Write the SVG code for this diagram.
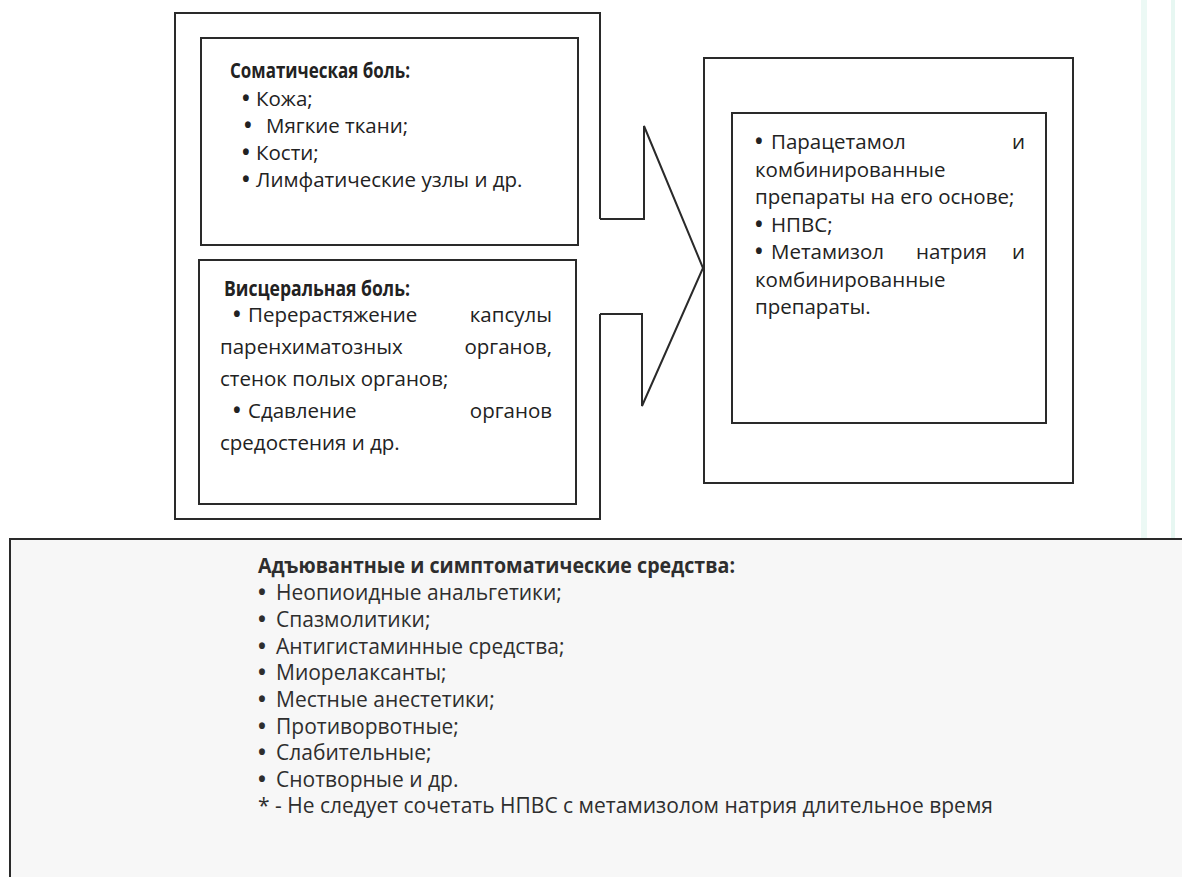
<svg xmlns="http://www.w3.org/2000/svg" width="1182" height="877" viewBox="0 0 1182 877">
<style>
.ln{fill:none;stroke:#2a2a2a;stroke-width:2}
.bx{fill:#ffffff;stroke:#2a2a2a;stroke-width:2}
.t{font-family:"Open Sans","Noto Sans",sans-serif;font-size:20.5px;fill:#222222}
.s{font-size:21px;fill:#2e2e2e}
.bu{font-weight:bold}
.b{font-weight:bold}
.e{text-anchor:end}
</style>
<rect x="0" y="0" width="1182" height="877" fill="#ffffff"/>
<rect x="1141" y="0" width="6" height="877" fill="#e4f6f1" opacity="0.7"/>
<rect x="1171" y="0" width="4" height="877" fill="#e4f6f1" opacity="0.9"/>

<g id="pain-types">
<path class="ln" d="M600,219 V13 H175 V519 H600 V314"/>
</g>
<g id="somatic">
<rect class="bx" x="201" y="38" width="377" height="207"/>
<text class="t"><tspan class="b" x="230" y="78" textLength="180" lengthAdjust="spacingAndGlyphs">Соматическая боль:</tspan><tspan class="bu" x="242" y="106">•</tspan><tspan x="256" y="106">Кожа;</tspan><tspan class="bu" x="244" y="133">•</tspan><tspan x="266" y="133">Мягкие ткани;</tspan><tspan class="bu" x="242" y="160">•</tspan><tspan x="256" y="160">Кости;</tspan><tspan class="bu" x="242" y="187">•</tspan><tspan x="256" y="187">Лимфатические узлы и др.</tspan></text>
</g>
<g id="visceral">
<rect class="bx" x="199" y="260" width="377" height="244"/>
<text class="t"><tspan class="b" x="224" y="296" textLength="186" lengthAdjust="spacingAndGlyphs">Висцеральная боль:</tspan><tspan class="bu" x="233" y="322">•</tspan><tspan x="248" y="322">Перерастяжение</tspan><tspan x="220" y="354">паренхиматозных</tspan><tspan x="220" y="386">стенок полых органов;</tspan><tspan class="bu" x="233" y="418">•</tspan><tspan x="248" y="418">Сдавление</tspan><tspan x="220" y="450">средостения и др.</tspan></text>
<text class="t e"><tspan x="552" y="322">капсулы</tspan><tspan x="552" y="354">органов,</tspan><tspan x="552" y="418">органов</tspan></text>
</g>

<g id="connectors">
<path class="ln" d="M600,219 H644 V126 L703,268 L642,406 V314 H600"/>
</g>

<g id="analgesics">
<rect class="bx" x="704" y="58" width="369" height="425"/>
<rect class="bx" x="732" y="113" width="314" height="310"/>
<text class="t"><tspan class="bu" x="755" y="149">•</tspan><tspan x="771" y="149">Парацетамол</tspan><tspan x="755" y="176.5">комбинированные</tspan><tspan x="755" y="204">препараты на его основе;</tspan><tspan class="bu" x="755" y="231.5">•</tspan><tspan x="771" y="231.5">НПВС;</tspan><tspan class="bu" x="755" y="259">•</tspan><tspan x="771" y="259">Метамизол</tspan><tspan x="916" y="259">натрия</tspan><tspan x="755" y="286.5">комбинированные</tspan><tspan x="755" y="314">препараты.</tspan></text>
<text class="t e"><tspan x="1025" y="149">и</tspan><tspan x="1025" y="259">и</tspan></text>
</g>

<g id="adjuvants">
<rect x="10" y="539" width="1200" height="360" fill="#f7f7f7" stroke="#2a2a2a" stroke-width="2"/>
<text class="t s"><tspan class="b" x="258" y="573" textLength="477" lengthAdjust="spacingAndGlyphs">Адъювантные и симптоматические средства:</tspan><tspan class="bu" x="258" y="600">•</tspan><tspan x="276" y="600">Неопиоидные анальгетики;</tspan><tspan class="bu" x="258" y="627">•</tspan><tspan x="276" y="627">Спазмолитики;</tspan><tspan class="bu" x="258" y="654">•</tspan><tspan x="276" y="654">Антигистаминные средства;</tspan><tspan class="bu" x="258" y="680">•</tspan><tspan x="276" y="680">Миорелаксанты;</tspan><tspan class="bu" x="258" y="707">•</tspan><tspan x="276" y="707">Местные анестетики;</tspan><tspan class="bu" x="258" y="734">•</tspan><tspan x="276" y="734">Противорвотные;</tspan><tspan class="bu" x="258" y="760">•</tspan><tspan x="276" y="760">Слабительные;</tspan><tspan class="bu" x="258" y="787">•</tspan><tspan x="276" y="787">Снотворные и др.</tspan><tspan x="258" y="813">* - Не следует сочетать НПВС с метамизолом натрия длительное время</tspan></text>
</g>
</svg>
